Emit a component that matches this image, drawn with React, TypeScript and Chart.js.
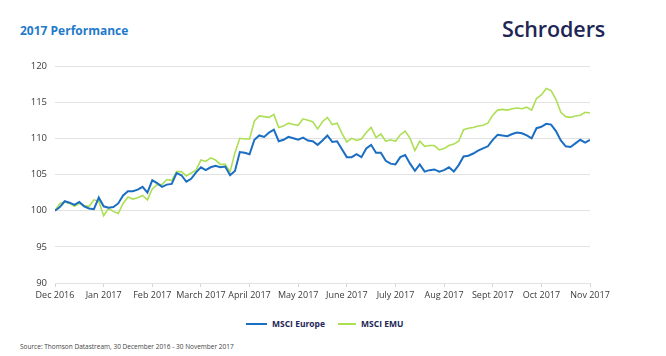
import React, { useEffect, useRef } from "react";
import { Chart, registerables } from "chart.js";

Chart.register(...registerables);

const monthLabels = [
  "Dec 2016", "Jan 2017", "Feb 2017", "March 2017", "April 2017", "May 2017",
  "June 2017", "July 2017", "Aug 2017", "Sept 2017", "Oct 2017", "Nov 2017",
];

const samplesPerMonth = 10;

const msciEurope = [
  100.0, 100.5, 101.3, 101.1, 100.8, 101.2, 100.6, 100.3, 100.2, 101.8,
  100.6, 100.4, 100.5, 101.0, 102.1, 102.7, 102.7, 102.9, 103.3, 102.5,
  104.2, 103.8, 103.3, 103.6, 103.7, 105.2, 104.9, 104.0, 104.4, 105.3,
  106.0, 105.6, 106.0, 106.2, 106.0, 106.1, 104.9, 105.5, 108.1, 108.0,
  107.8, 109.8, 110.4, 110.2, 110.8, 111.2, 109.6, 109.8, 110.2, 110.0,
  109.8, 110.1, 109.7, 109.6, 109.1, 109.7, 110.4, 109.5, 109.6, 108.5,
  107.4, 107.4, 107.8, 107.4, 108.6, 109.1, 108.0, 108.0, 106.9, 106.5,
  106.4, 107.4, 107.7, 106.5, 105.5, 106.4, 105.4, 105.6, 105.7, 105.4,
  105.6, 106.0, 105.4, 106.3, 107.5, 107.6, 107.9, 108.3, 108.6, 108.9,
  109.8, 110.5, 110.4, 110.3, 110.6, 110.8, 110.7, 110.4, 110.0, 111.4,
  111.6, 112.0, 111.9, 111.0, 109.7, 108.9, 108.8, 109.3, 109.8, 109.4,
  109.8,
];

const msciEmu = [
  100.0, 101.0, 101.2, 101.0, 100.6, 101.0, 100.7, 100.6, 101.5, 101.3,
  99.3, 100.3, 99.9, 99.6, 101.0, 101.9, 101.6, 101.8, 102.1, 101.5,
  103.0, 103.6, 103.6, 104.3, 104.2, 105.4, 105.4, 104.8, 105.2, 105.6,
  107.0, 106.8, 107.3, 107.0, 106.4, 106.4, 105.4, 108.0, 110.0, 109.9,
  109.9, 112.4, 113.1, 113.0, 112.9, 113.3, 111.5, 111.7, 112.1, 111.9,
  111.8, 112.7, 112.5, 112.3, 111.3, 112.3, 112.9, 111.9, 112.1, 110.7,
  109.5, 110.0, 109.7, 109.9, 110.8, 111.5, 110.1, 110.6, 109.6, 109.8,
  109.6, 110.5, 111.0, 110.0, 108.3, 109.6, 108.9, 109.0, 109.0, 108.4,
  108.6, 109.0, 109.2, 109.6, 111.2, 111.4, 111.5, 111.7, 111.8, 112.1,
  113.2, 113.9, 114.0, 113.9, 114.1, 114.2, 114.1, 114.3, 113.9, 115.5,
  116.0, 116.9, 116.6, 115.4, 113.6, 113.0, 112.9, 113.1, 113.2, 113.6,
  113.5,
];

const seriesNames = ["MSCI Europe", "MSCI EMU"];
const seriesColors = ["#1b6ec2", "#addf55"];

const yMin = 90;
const yMax = 120;
const yStep = 5;

const FONT = "'Open Sans', 'Noto Sans', sans-serif";

export default function App() {
  const canvasRef = useRef<HTMLCanvasElement | null>(null);

  useEffect(() => {
    const ctx = canvasRef.current;
    if (!ctx) return;
    const chart = new Chart(ctx, {
      type: "line",
      data: {
        datasets: [
          {
            label: seriesNames[0],
            data: msciEurope.map((v, i) => ({ x: i / samplesPerMonth, y: v })),
            borderColor: seriesColors[0],
            backgroundColor: seriesColors[0],
            borderWidth: 2,
            pointRadius: 0,
            tension: 0,
          },
          {
            label: seriesNames[1],
            data: msciEmu.map((v, i) => ({ x: i / samplesPerMonth, y: v })),
            borderColor: seriesColors[1],
            backgroundColor: seriesColors[1],
            borderWidth: 1.6,
            pointRadius: 0,
            tension: 0,
          },
        ],
      },
      options: {
        animation: false,
        responsive: false,
        maintainAspectRatio: false,
        layout: { padding: { left: 0, right: 76, top: 66, bottom: 7 } },
        plugins: {
          legend: { display: false },
          tooltip: { enabled: false },
          title: { display: false },
        },
        scales: {
          x: {
            type: "linear",
            min: 0,
            max: 11,
            afterFit: (scale: any) => {
              scale.height = 20;
            },
            ticks: {
              stepSize: 1,
              autoSkip: false,
              maxRotation: 0,
              padding: 3,
              color: "#3a3a3a",
              font: { family: FONT, size: 9 },
              callback: (v: any) => monthLabels[Number(v)] ?? "",
            },
            grid: {
              drawOnChartArea: false,
              drawTicks: true,
              tickLength: 4,
              color: "#d6d6d6",
            },
            border: { display: true, color: "#e2e2e2" },
          },
          y: {
            min: yMin,
            max: yMax,
            afterFit: (scale: any) => {
              scale.width = 55;
            },
            ticks: {
              stepSize: yStep,
              padding: 8,
              color: "#3a3a3a",
              font: { family: FONT, size: 9.5 },
            },
            grid: { color: "#e2e2e2", drawTicks: false },
            border: { display: false },
          },
        },
      },
    });
    return () => chart.destroy();
  }, []);

  return (
    <div style={{ position: "fixed", left: 0, top: 0, width: 666, height: 356, background: "#fff", overflow: "hidden" }}>
      <div style={{ position: "absolute", left: 20, top: 22, fontFamily: FONT, fontWeight: 700, fontSize: 12, color: "#1f7acb", lineHeight: "18px" }}>
        2017 Performance
      </div>
      <div style={{ position: "absolute", left: 502, top: 14, fontFamily: FONT, fontWeight: 600, fontSize: 21.5, color: "#1d2654", lineHeight: "30px", letterSpacing: "-0.1px" }}>
        Schroders
      </div>
      <canvas ref={canvasRef} width={666} height={310} style={{ position: "absolute", left: 0, top: 0, width: 666, height: 310 }} />
      <div style={{ position: "absolute", left: 246, top: 316, display: "flex", alignItems: "center", fontFamily: FONT, fontWeight: 700, fontSize: 8.5, color: "#1d2654", lineHeight: "16px" }}>
        <span style={{ display: "inline-block", width: 21, height: 2, background: seriesColors[0], marginRight: 5 }} />
        <span style={{ marginRight: 13 }}>{seriesNames[0]}</span>
        <span style={{ display: "inline-block", width: 18, height: 2, background: seriesColors[1], marginRight: 5 }} />
        <span>{seriesNames[1]}</span>
      </div>
      <div style={{ position: "absolute", left: 20, top: 342, fontFamily: FONT, fontSize: 6.5, color: "#444", lineHeight: "10px" }}>
        Source: Thomson Datastream, 30 December 2016 - 30 November 2017
      </div>
    </div>
  );
}
